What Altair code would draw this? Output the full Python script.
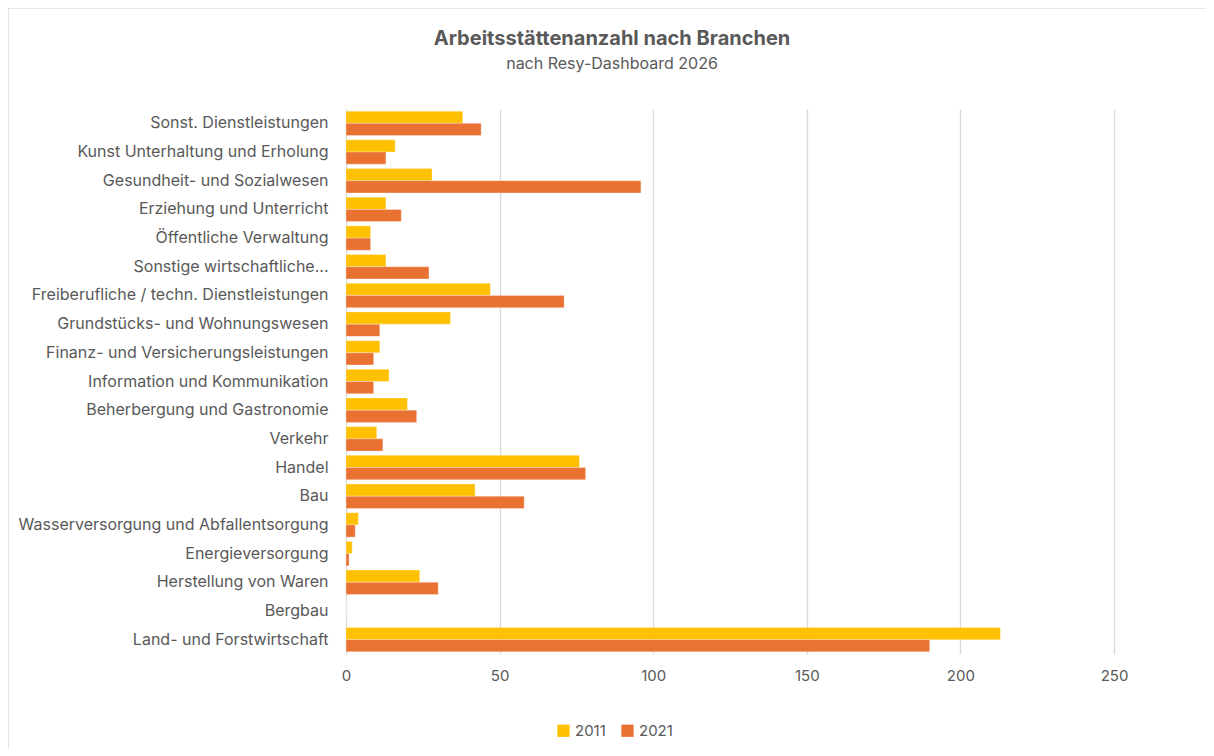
import altair as alt
import pandas as pd

categories = [
    "Sonst. Dienstleistungen",
    "Kunst Unterhaltung und Erholung",
    "Gesundheit- und Sozialwesen",
    "Erziehung und Unterricht",
    "Öffentliche Verwaltung",
    "Sonstige wirtschaftliche...",
    "Freiberufliche / techn. Dienstleistungen",
    "Grundstücks- und Wohnungswesen",
    "Finanz- und Versicherungsleistungen",
    "Information und Kommunikation",
    "Beherbergung und Gastronomie",
    "Verkehr",
    "Handel",
    "Bau",
    "Wasserversorgung und Abfallentsorgung",
    "Energieversorgung",
    "Herstellung von Waren",
    "Bergbau",
    "Land- und Forstwirtschaft",
]
values_2011 = [38, 16, 28, 13, 8, 13, 47, 34, 11, 14, 20, 10, 76, 42, 4, 2, 24, 0, 213]
values_2021 = [44, 13, 96, 18, 8, 27, 71, 11, 9, 9, 23, 12, 78, 58, 3, 1, 30, 0, 190]
years = ["2011", "2021"]
colors = ["#FFC000", "#E97132"]

rows = []
for c, a, b in zip(categories, values_2011, values_2021):
    rows.append({"Branche": c, "Jahr": "2011", "Anzahl": a})
    rows.append({"Branche": c, "Jahr": "2021", "Anzahl": b})
df = pd.DataFrame(rows)

FONT = "Inter"
TXT = "#595959"

bars = alt.Chart(df).mark_bar(stroke="white", strokeWidth=0.6, strokeOpacity=0.5).encode(
    y=alt.Y(
        "Branche:N",
        sort=categories,
        title=None,
        scale=alt.Scale(paddingInner=0.15, paddingOuter=0.075),
        axis=alt.Axis(labelFontSize=16, labelColor=TXT, labelFont=FONT, ticks=False,
                      domain=False, labelPadding=18, labelLimit=400),
    ),
    yOffset=alt.YOffset("Jahr:N", sort=years, scale=alt.Scale(paddingInner=0, paddingOuter=0)),
    x=alt.X(
        "Anzahl:Q",
        title=None,
        scale=alt.Scale(domain=[0, 250], nice=False),
        axis=alt.Axis(values=[0, 50, 100, 150, 200, 250], labelFontSize=15, labelColor=TXT,
                      labelFont=FONT, ticks=False, domain=False, grid=True, labelFlush=False,
                      gridColor="#d9d9d9", gridWidth=1.3, labelPadding=14),
    ),
    color=alt.Color(
        "Jahr:N",
        sort=years,
        scale=alt.Scale(domain=years, range=colors),
        legend=alt.Legend(title=None, orient="none", direction="horizontal",
                          legendX=210, legendY=614, symbolType="square", symbolSize=150,
                          symbolStrokeWidth=0, labelFontSize=15, labelColor=TXT,
                          labelFont=FONT, columnPadding=14, labelOffset=4),
    ),
)

border = alt.Chart(pd.DataFrame({"a": [0]})).mark_rect(
    filled=False, stroke="#d0d0d0", strokeWidth=1.2
).encode(
    x=alt.value(-338), x2=alt.value(872), y=alt.value(-101), y2=alt.value(700)
)

chart = alt.layer(border, bars).properties(
    width=768,
    height=545,
    background="white",
    title=alt.TitleParams(
        "Arbeitsstättenanzahl nach Branchen",
        subtitle="nach Resy-Dashboard 2026",
        font=FONT, fontSize=20, fontWeight="bold", color=TXT,
        subtitleFont=FONT, subtitleFontSize=16, subtitleColor=TXT,
        subtitlePadding=7, anchor="middle", frame="group", dx=-118, offset=-64.5,
    ),
    autosize=alt.AutoSizeParams(type="none"),
    padding={"left": 338, "top": 101, "right": 92, "bottom": 94},
).configure_view(strokeWidth=0)

chart.save("out.html", embed_options={"renderer": "svg", "actions": False})
